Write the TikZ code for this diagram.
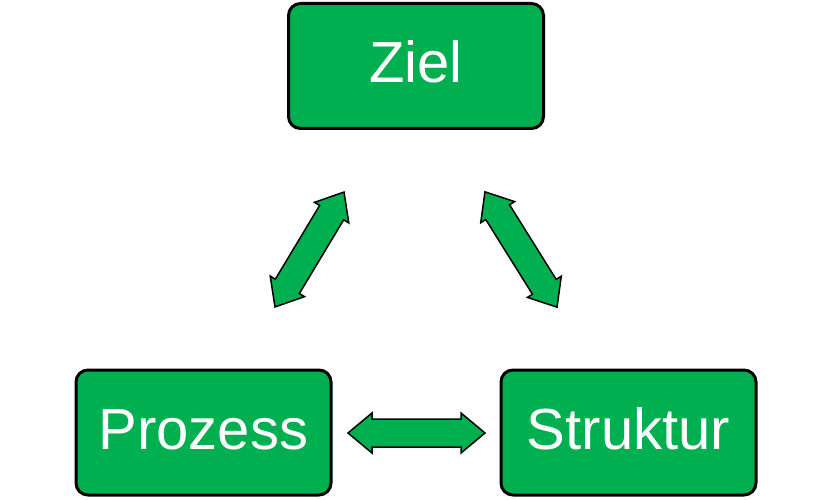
\documentclass[tikz,border=0pt]{standalone}
\usepackage{fontspec}
\setmainfont{Liberation Sans}
\definecolor{pptgreen}{HTML}{00B050}
\begin{document}
\begin{tikzpicture}[x=1pt,y=1pt,
  box/.style={draw=black, line width=3pt, fill=pptgreen, rounded corners=12pt,
    minimum width=255pt, minimum height=125pt, text=white,
    font=\fontsize{58}{68}\selectfont, inner sep=0pt,
    text height=34pt, text depth=0pt},
  arrowshape/.style={draw=black, line width=1.5pt, fill=pptgreen, line join=miter},
  pics/dblarrow/.style={code={
    \pgfmathsetmacro{\hL}{#1/2}
    \pgfmathsetmacro{\hS}{#1/2-24}
    \draw[arrowshape] (-\hL,0) -- (-\hS,20) -- (-\hS,14) -- (\hS,14) -- (\hS,20)
      -- (\hL,0) -- (\hS,-20) -- (\hS,-14) -- (-\hS,-14) -- (-\hS,-20) -- cycle;
  }}]
\useasboundingbox (0,0) rectangle (833,499);
\node[box] (ziel) at (416,433) {Ziel};
\node[box] (prozess) at (203.5,66.5) {Prozess};
\node[box] (struktur) at (628.5,66.5) {Struktur};
\pic[rotate=59] (a1) at (309.5,249.5) {dblarrow=134};
\pic[rotate=-58] (a2) at (521,249.5) {dblarrow=136};
\pic (a3) at (416.5,66) {dblarrow=137};
\end{tikzpicture}
\end{document}
